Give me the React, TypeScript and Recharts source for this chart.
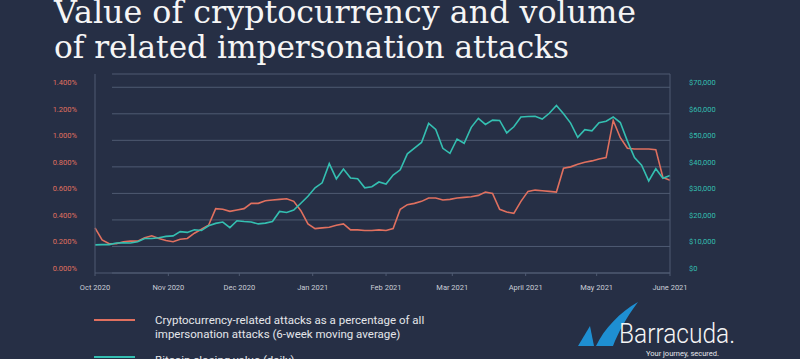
import { CartesianGrid, Line, LineChart, XAxis, YAxis } from 'recharts';

const BG = '#262f45';
const RED = '#e0705f';
const TEAL = '#34bfb1';
const GRID = '#4f5a72';

// days since 1 Oct 2020, sampled every 3 days
const days = Array.from({ length: 82 }, (_, i) => i * 3);

// Bitcoin closing value (USD)
const btc = [
  10600, 10700, 10700, 11300, 11400, 11300, 11750, 13000, 13000, 13300,
  13800, 14000, 15600, 15300, 16300, 16000, 17800, 18700, 19200, 17100,
  19700, 19400, 19200, 18500, 18800, 19400, 23200, 22800, 23700, 26300,
  28900, 32100, 34000, 41200, 35500, 39200, 35800, 35500, 32100, 32500,
  34300, 33500, 36900, 38900, 44900, 47100, 49200, 56400, 54100, 47000,
  45100, 50500, 48900, 54900, 58300, 56000, 57600, 57500, 52800, 55100,
  58800, 59000, 59100, 58000, 60200, 63100, 60000, 56500, 51100, 54000,
  53600, 56600, 57200, 58800, 56700, 49700, 43500, 40600, 34700, 39300,
  35700, 36700,
];

// crypto-related attacks as % of impersonation attacks
const attackPct = [
  0.34, 0.25, 0.22, 0.22, 0.235, 0.24, 0.24, 0.265, 0.28, 0.26,
  0.245, 0.236, 0.255, 0.26, 0.3, 0.33, 0.36, 0.485, 0.48, 0.465,
  0.475, 0.485, 0.525, 0.525, 0.545, 0.55, 0.555, 0.56, 0.54, 0.47,
  0.37, 0.335, 0.34, 0.345, 0.36, 0.37, 0.325, 0.325, 0.32, 0.32,
  0.325, 0.32, 0.335, 0.48, 0.515, 0.525, 0.54, 0.565, 0.565, 0.55,
  0.555, 0.565, 0.57, 0.575, 0.585, 0.61, 0.6, 0.48, 0.46, 0.45,
  0.54, 0.615, 0.625, 0.62, 0.615, 0.61, 0.79, 0.8, 0.82, 0.835,
  0.845, 0.86, 0.87, 1.15, 1.02, 0.94, 0.935, 0.935, 0.935, 0.93,
  0.72, 0.7,
];

const monthDays = [0, 31, 61, 92, 123, 151, 182, 212, 243];
const monthLabels = [
  'Oct 2020', 'Nov 2020', 'Dec 2020', 'Jan 2021', 'Feb 2021',
  'Mar 2021', 'April 2021', 'May 2021', 'June 2021',
];
const pctTicks = [0, 0.2, 0.4, 0.6, 0.8, 1.0, 1.2, 1.4];
const usdTicks = [0, 10000, 20000, 30000, 40000, 50000, 60000, 70000];

const data = days.map((day, i) => ({ day, btc: btc[i], pct: attackPct[i] }));

const tickFont = 'Roboto, "Open Sans", sans-serif';

const LeftTick = ({ x, y, payload }: any) => (
  <text x={x} y={y - 4} fill={RED} fontSize={7.5} fontFamily={tickFont} textAnchor="end" dominantBaseline="middle">
    {payload.value.toFixed(3)}%
  </text>
);

const RightTick = ({ x, y, payload }: any) => (
  <text x={x} y={y - 4} fill={TEAL} fontSize={7.5} fontFamily={tickFont} textAnchor="start" dominantBaseline="middle">
    ${payload.value.toLocaleString('en-US')}
  </text>
);

const BottomTick = ({ x, y, payload }: any) => (
  <text x={x} y={y + 6} fill="#c9cdd6" fontSize={7.5} fontFamily={tickFont} textAnchor="middle">
    {monthLabels[monthDays.indexOf(payload.value)]}
  </text>
);

const App = () => {
  return (
    <div style={{ position: 'absolute', left: 0, top: 0, width: 800, height: 359, background: BG, overflow: 'hidden' }}>
      <LineChart
        width={800}
        height={359}
        data={data}
        margin={{ top: 74, right: 70, left: 55, bottom: 66 }}
      >
        <CartesianGrid
          vertical={false}
          horizontal={(p: any) => (
            <line key={p.key} x1={p.x1 + 17} y1={p.y1} x2={p.x2} y2={p.y2} stroke={GRID} strokeWidth={1} />
          )}
        />
        <XAxis
          dataKey="day"
          type="number"
          domain={[0, 243]}
          ticks={monthDays}
          interval={0}
          height={20}
          stroke={GRID}
          tickSize={3}
          tickMargin={8}
          tick={<BottomTick />}
        />
        <YAxis
          domain={[0, 1.5]}
          ticks={pctTicks}
          width={40}
          stroke={GRID}
          tickLine={false}
          tickSize={0}
          tickMargin={18}
          tick={<LeftTick />}
        />
        <YAxis
          yAxisId="usd"
          orientation="right"
          domain={[0, 75000]}
          ticks={usdTicks}
          width={60}
          stroke={GRID}
          tickLine={false}
          tickSize={0}
          tickMargin={19}
          tick={<RightTick />}
        />
        <Line dataKey="pct" stroke={RED} strokeWidth={1.6} dot={false} isAnimationActive={false} />
        <Line dataKey="btc" yAxisId="usd" stroke={TEAL} strokeWidth={1.6} dot={false} isAnimationActive={false} />
      </LineChart>

      <svg width={800} height={359} style={{ position: 'absolute', left: 0, top: 0, pointerEvents: 'none' }}>
        <g fill="#f5f5f5" fontFamily='"DejaVu Serif", serif' fontSize={31}>
          <text x={54} y={23} textLength={582} lengthAdjust="spacingAndGlyphs">
            Value of cryptocurrency and volume
          </text>
          <text x={54} y={58} textLength={515} lengthAdjust="spacingAndGlyphs">
            of related impersonation attacks
          </text>
        </g>

        <g fontFamily={tickFont} fontSize={11.5} fill="#e4e6ea">
          <line x1={94} y1={320} x2={135} y2={320} stroke={RED} strokeWidth={2} />
          <text x={155} y={324}>Cryptocurrency-related attacks as a percentage of all</text>
          <text x={155} y={338}>impersonation attacks (6-week moving average)</text>
          <line x1={94} y1={357} x2={135} y2={357} stroke={TEAL} strokeWidth={2} />
          <text x={155} y={364}>Bitcoin closing value (daily)</text>
        </g>

        <g>
          <path d="M578 346 L590 326 L594 346 Z" fill="#1e8fd2" />
          <path d="M596 346 C604 329 620 312 638 302 C626 318 618 333 613 346 Z" fill="#1e8fd2" />
          <text x={619} y={343} fill="#f5f5f5" fontFamily={tickFont} fontSize={28} fontWeight={300} textLength={116} lengthAdjust="spacingAndGlyphs">
            Barracuda.
          </text>
          <text x={646} y={356} fill="#e4e6ea" fontFamily={tickFont} fontSize={7.5}>
            Your journey, secured.
          </text>
        </g>
      </svg>
    </div>
  );
};

export default App;
